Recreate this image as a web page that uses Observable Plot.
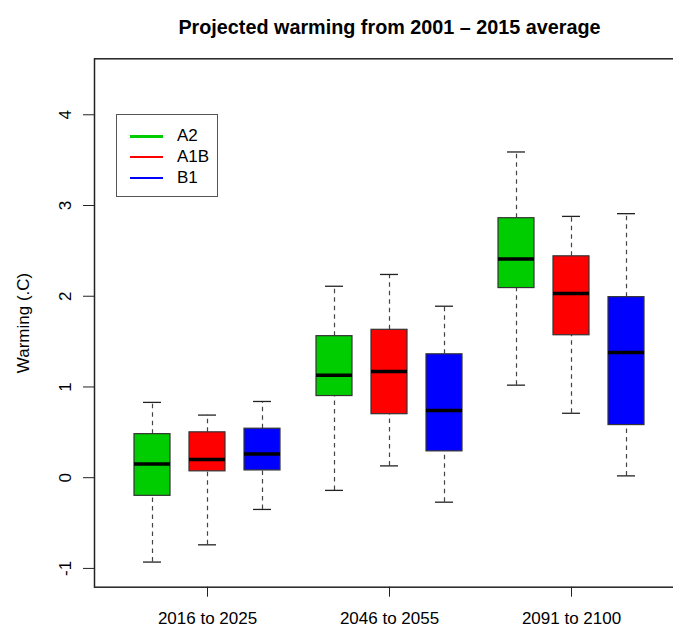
<!DOCTYPE html>
<html>
<head>
<meta charset="utf-8">
<script src="https://cdn.jsdelivr.net/npm/d3@7"></script>
<script src="https://cdn.jsdelivr.net/npm/@observablehq/plot@0.6"></script>
<style>
  html, body { margin: 0; padding: 0; background: #fff; overflow: hidden; }
  #wrap { position: relative; width: 673px; height: 630px; overflow: hidden; font-family: "Liberation Sans", Arial, sans-serif; }
  #chart svg { display: block; overflow: hidden; }
  #legend { position: absolute; left: 116px; top: 114px; width: 100px; height: 81px; border: 1px solid #555; background: #fff; }
  .item { position: absolute; left: 0; height: 20px; width: 100px; }
  .item .sw { position: absolute; left: 13px; top: 9px; width: 33px; height: 2.5px; }
  .item .lb { position: absolute; left: 60px; top: 0; font-size: 17px; line-height: 20px; color: #000; }
</style>
</head>
<body>
<div id="wrap"><div id="chart"></div><div id="legend"></div></div>
<script>
const title = "Projected warming from 2001 – 2015 average";
const yLabel = "Warming (.C)";
const groups = ["2016 to 2025", "2046 to 2055", "2091 to 2100"];
const scenarios = ["A2", "A1B", "B1"];
const colors = ["#00CD00", "#FF0000", "#0000FF"];
const yTicks = [-1, 0, 1, 2, 3, 4];

// per scenario, one value per period (groups order)
const lowA2  = [-0.93, -0.14, 1.02];
const q1A2   = [-0.20,  0.90, 2.09];
const medA2  = [ 0.15,  1.13, 2.41];
const q3A2   = [ 0.48,  1.56, 2.86];
const highA2 = [ 0.83,  2.11, 3.59];

const lowA1B  = [-0.74,  0.13, 0.71];
const q1A1B   = [ 0.07,  0.70, 1.57];
const medA1B  = [ 0.20,  1.17, 2.03];
const q3A1B   = [ 0.50,  1.63, 2.44];
const highA1B = [ 0.69,  2.24, 2.88];

const lowB1  = [-0.35, -0.27, 0.02];
const q1B1   = [ 0.08,  0.29, 0.58];
const medB1  = [ 0.26,  0.74, 1.38];
const q3B1   = [ 0.54,  1.36, 1.99];
const highB1 = [ 0.84,  1.89, 2.91];

const stats = {
  A2:  [lowA2, q1A2, medA2, q3A2, highA2],
  A1B: [lowA1B, q1A1B, medA1B, q3A1B, highA1B],
  B1:  [lowB1, q1B1, medB1, q3B1, highB1]
};

const rowsFor = (s) => groups.map((g, i) => ({
  group: g, scenario: s,
  low: stats[s][0][i], q1: stats[s][1][i], med: stats[s][2][i],
  q3: stats[s][3][i], high: stats[s][4][i]
}));

const boxStep = 55;      // px between boxes within a period
const boxInset = 64;     // (bandwidth - box width)/2
const capInset = 73;     // (bandwidth - cap width)/2

const marks = [];
scenarios.forEach((s, j) => {
  const rows = rowsFor(s);
  const dx = (j - 1) * boxStep;
  const dash = {stroke: "#444", strokeWidth: 1.2, strokeDasharray: "4.5,4"};
  marks.push(Plot.ruleX(rows, {x: "group", y1: "q3", y2: "high", dx, ...dash}));
  marks.push(Plot.ruleX(rows, {x: "group", y1: "low", y2: "q1", dx, ...dash}));
  marks.push(Plot.tickY(rows, {x: "group", y: "high", dx, insetLeft: capInset, insetRight: capInset, stroke: "#222", strokeWidth: 1.3}));
  marks.push(Plot.tickY(rows, {x: "group", y: "low", dx, insetLeft: capInset, insetRight: capInset, stroke: "#222", strokeWidth: 1.3}));
  marks.push(Plot.barY(rows, {x: "group", y1: "q1", y2: "q3", dx, insetLeft: boxInset, insetRight: boxInset, fill: colors[j], stroke: "#333", strokeWidth: 1.2}));
  marks.push(Plot.tickY(rows, {x: "group", y: "med", dx, insetLeft: boxInset, insetRight: boxInset, stroke: "#000", strokeWidth: 3.5}));
});

const chart = Plot.plot({
  width: 673,
  height: 630,
  marginLeft: 94,
  marginRight: -11,
  marginTop: 58.3,
  marginBottom: 43.3,
  style: {fontFamily: "'Liberation Sans', Arial, sans-serif", fontSize: "17px", color: "#000", background: "#fff", overflow: "hidden"},
  x: {type: "band", domain: groups, paddingInner: 0.1, paddingOuter: 0.169, label: null},
  y: {domain: [-1.207, 4.617], label: null},
  marks: [
    ...marks,
    Plot.frame({stroke: "#222", strokeWidth: 1.5}),
    Plot.axisY({ticks: yTicks, tickSize: 11, tickFormat: () => "", label: null, stroke: "#222"}),
    Plot.text(yTicks, {y: d => d, text: d => String(d), frameAnchor: "left", dx: -29, rotate: -90, textAnchor: "middle", lineAnchor: "middle", fontSize: 17, fill: "#000"}),
    Plot.axisX({tickSize: 10, tickPadding: 15, fontSize: 17, label: null, stroke: "#222", fill: "#000"}),
    Plot.text([yLabel], {text: d => d, frameAnchor: "left", dx: -71.4, rotate: -90, textAnchor: "middle", lineAnchor: "middle", fontSize: 17, fill: "#000"}),
    Plot.text([title], {text: d => d, frameAnchor: "top", dy: -31.5, textAnchor: "middle", lineAnchor: "middle", fontSize: 19.8, fontWeight: "bold", fill: "#000"})
  ]
});
document.getElementById("chart").appendChild(chart);

const legend = document.getElementById("legend");
scenarios.forEach((s, j) => {
  const item = document.createElement("div");
  item.className = "item";
  item.style.top = (11 + j * 20.8) + "px";
  const sw = document.createElement("div");
  sw.className = "sw";
  sw.style.background = colors[j];
  const lb = document.createElement("div");
  lb.className = "lb";
  lb.textContent = s;
  item.appendChild(sw);
  item.appendChild(lb);
  legend.appendChild(item);
});
</script>
</body>
</html>
